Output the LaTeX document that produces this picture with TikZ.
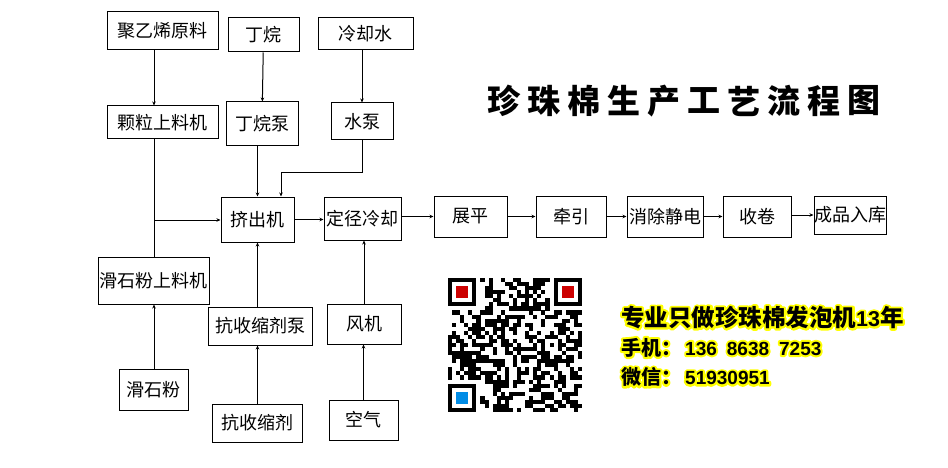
\documentclass[tikz,border=0pt]{standalone}
\usepackage{fontspec}
\setmainfont{Noto Sans CJK SC}
\newfontfamily\numfont{Liberation Sans}
\usetikzlibrary{positioning,arrows.meta}
\definecolor{qrred}{RGB}{204,0,0}
\definecolor{qrblue}{RGB}{0,140,230}
\tikzset{
  box/.style={draw=black, line width=1pt, inner sep=0pt, font=\fontsize{18}{18}\selectfont},
  flow/.style={draw=black, line width=1pt, -{Stealth[length=4pt,width=3.5pt]}},
  plain/.style={draw=black, line width=1pt},
  titlech/.style={inner sep=0pt, font=\fontsize{33}{33}\selectfont\bfseries},
  contact/.style={anchor=west, inner sep=0pt, font=\bfseries}
}
% yellow outline under black text
\newcommand{\haloline}[3]{%
  \node[contact] (#1) at (#2) {\rlap{\special{pdf:literal direct 1 1 0 RG 4.2 w 1 j 1 J 1 Tr}#3\special{pdf:literal direct 0 Tr}}#3};}
\newcommand{\num}[2]{{\numfont\fontsize{#1}{#1}\selectfont\bfseries #2}}
\begin{document}
\begin{tikzpicture}[x=1pt, y=-1pt]
    \useasboundingbox (0,0) rectangle (948,468);

    % raw material column
    \node[box, minimum width=111pt, minimum height=38pt] (peRaw)        at (162.5,31)  {聚乙烯原料};
    \node[box, minimum width=111pt, minimum height=33pt] (pelletFeeder) at (162.5,122.5) {颗粒上料机};
    \node[box, minimum width=111pt, minimum height=47pt] (talcFeeder)   at (153.5,280.5) {滑石粉上料机};
    \node[box, minimum width=69pt,  minimum height=41pt] (talc)         at (153.5,389.5) {滑石粉};
    \coordinate (trunk) at (154,220);

    % butane and agent column
    \node[box, minimum width=71pt,  minimum height=34pt] (butane)     at (263.5,35)  {丁烷};
    \node[box, minimum width=72pt,  minimum height=44pt] (butanePump) at (262,124)   {丁烷泵};
    \node[box, minimum width=73pt,  minimum height=45pt] (extruder)   at (257.5,219.5) {挤出机};
    \node[box, minimum width=104pt, minimum height=38pt] (agentPump)  at (260,326)   {抗收缩剂泵};
    \node[box, minimum width=90pt,  minimum height=38pt] (agent)      at (257,423)   {抗收缩剂};

    % cooling column
    \node[box, minimum width=95pt, minimum height=32pt] (coolWater) at (365.5,34)  {冷却水};
    \node[box, minimum width=62pt, minimum height=37pt] (waterPump) at (362,121.5) {水泵};
    \coordinate (waterBend) at (281,173);
    \node[box, minimum width=77pt, minimum height=43pt] (sizing)    at (362.5,218.5) {定径冷却};
    \node[box, minimum width=74pt, minimum height=40pt] (fan)       at (364,324)   {风机};
    \node[box, minimum width=69pt, minimum height=40pt] (air)       at (363.5,420) {空气};

    % main line
    \node[box, minimum width=73pt, minimum height=41pt] (flatten)  at (470.5,216.5) {展平};
    \node[box, minimum width=70pt, minimum height=41pt] (haul)     at (571,216.5)   {牵引};
    \node[box, minimum width=76pt, minimum height=41pt] (destatic) at (665,216.5)   {消除静电};
    \node[box, minimum width=68pt, minimum height=41pt] (winder)   at (757,216.5)   {收卷};
    \node[box, minimum width=72pt, minimum height=38pt] (store)    at (850,215)     {成品入库};

    \draw[flow]  (peRaw.south -| trunk) -- (pelletFeeder.north -| trunk);
    \draw[plain] (pelletFeeder.south -| trunk) -- (talcFeeder.north -| trunk);
    \draw[flow]  (trunk) -- (extruder.west |- trunk);
    \draw[flow]  (talc.north -| trunk) -- (talcFeeder.south -| trunk);

    \draw[flow] (butane) -- (butanePump);
    \draw[flow] (butanePump.south -| extruder) -- (extruder);
    \draw[flow] (agent.north -| extruder) -- (agentPump.south -| extruder);
    \draw[flow] (agentPump.north -| extruder) -- (extruder);

    \draw[flow] (coolWater.south -| waterPump) -- (waterPump);
    \draw[flow] (waterPump.south) |- (waterBend) -- (waterBend |- extruder.north);
    \draw[flow] (air) -- (fan.south -| air);
    \draw[flow] (fan.north) -- (sizing.south -| fan);

    \draw[flow] (extruder) -- (sizing.west |- extruder);
    \draw[flow] (sizing.east |- flatten) -- (flatten);
    \draw[flow] (flatten) -- (haul);
    \draw[flow] (haul) -- (destatic);
    \draw[flow] (destatic) -- (winder);
    \draw[flow] (winder.east |- store) -- (store);

    % title
    \foreach \ch [count=\i] in {珍,珠,棉,生,产,工,艺,流,程,图}
      \node[titlech] (title\i) at (464+\i*40,101) {\ch};

    % qr code
    \pgfmathsetseed{2713}
    \foreach \i in {0,...,32}{
      \foreach \j in {0,...,32}{
        \pgfmathtruncatemacro{\inFinder}{(\i<8 && \j<8) || (\i>24 && \j<8) || (\i<8 && \j>24)}
        \pgfmathtruncatemacro{\dark}{rnd<0.5}
        \ifnum\inFinder=0 \ifnum\dark=1
          \fill[black] (448+\i*4.06,278+\j*4.06) rectangle ++(4.1,4.1);
        \fi\fi
      }
    }
    \foreach \fx/\fy/\fc in {0/0/qrred, 26/0/qrred, 0/26/qrblue}{
      \fill[black] (448+\fx*4.06,278+\fy*4.06) rectangle ++(28.42,28.42);
      \fill[white] (448+\fx*4.06+4.06,278+\fy*4.06+4.06) rectangle ++(20.3,20.3);
      \fill[\fc]   (448+\fx*4.06+8.12,278+\fy*4.06+8.12) rectangle ++(12.18,12.18);
    }

    % contact lines
    \haloline{slogan}{621,317.5}{\fontsize{23.5}{24}\selectfont 专业只做珍珠棉发泡机\num{21.5}{13}年}
    \haloline{phone}{621,347.5}{\fontsize{20}{20}\selectfont 手机：\hspace{4pt}\num{19}{136\hspace{10pt}8638\hspace{10pt}7253}}
    \haloline{wechat}{621,377}{\fontsize{20}{20}\selectfont 微信：\hspace{4pt}\num{19}{51930951}}
\end{tikzpicture}
\end{document}
